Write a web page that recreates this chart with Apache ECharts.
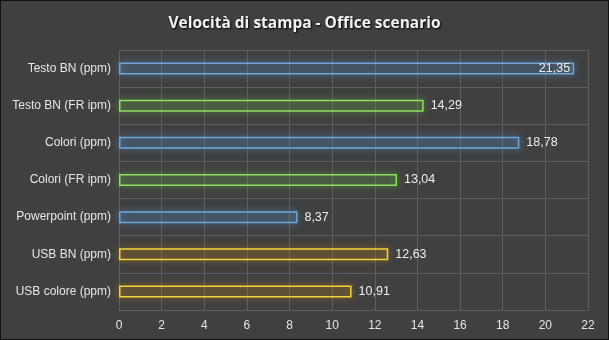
<!DOCTYPE html>
<html>
<head>
<meta charset="utf-8">
<script src="https://cdn.jsdelivr.net/npm/echarts@6/dist/echarts.min.js"></script>
<style>
html,body{margin:0;padding:0;background:#404040;}
#c{width:609px;height:340px;box-sizing:border-box;border:1px solid #111;}
</style>
</head>
<body>
<div id="c"></div>
<script>
var categories = ['Testo BN (ppm)','Testo BN (FR ipm)','Colori (ppm)','Colori (FR ipm)','Powerpoint (ppm)','USB BN (ppm)','USB colore (ppm)'];
var values = [21.35, 14.29, 18.78, 13.04, 8.37, 12.63, 10.91];
var groups = ['blue','green','blue','green','blue','yellow','yellow'];
var xTicks = [0,2,4,6,8,10,12,14,16,18,20,22];

var palette = {
  blue:   {border:'#6ea6dc', glow:'rgba(95,160,225,0.9)', fill:'rgba(80,130,180,0.10)'},
  green:  {border:'#8fe060', glow:'rgba(120,210,80,0.8)', fill:'rgba(100,170,70,0.08)'},
  yellow: {border:'#f5d43a', glow:'rgba(220,150,30,0.8)', fill:'rgba(150,100,40,0.10)'}
};

var data = values.map(function(v,i){
  var p = palette[groups[i]];
  var lbl = (v > 20) ? {position:'insideRight', distance:4} : {position:'right', distance:7};
  return {
    value: v,
    itemStyle: {color:p.fill, borderColor:p.border, borderWidth:1.5, shadowBlur:7, shadowColor:p.glow},
    label: lbl
  };
});

var FONT = 'Liberation Sans, Arial, sans-serif';
var chart = echarts.init(document.getElementById('c'));
chart.setOption({
  backgroundColor:'#404040',
  animation:false,
  title:{
    text:'Velocità di stampa - Office scenario',
    left:'center', top:10,
    textStyle:{color:'#f2f2f2', fontSize:15.5, fontWeight:'bold', fontFamily:'Open Sans',
      textShadowColor:'rgba(0,0,0,0.9)', textShadowBlur:2, textShadowOffsetX:1, textShadowOffsetY:1}
  },
  grid:{left:118, right:20, top:49, bottom:29},
  xAxis:{
    type:'value', min:0, max:22, interval:2,
    axisLine:{show:false}, axisTick:{show:false},
    axisLabel:{color:'#e6e6e6', fontSize:12, fontFamily:FONT, margin:10,
      formatter:function(v){return xTicks.indexOf(v)>=0 ? String(v) : '';}},
    splitLine:{show:true, lineStyle:{color:'#5e5e5e', width:1}}
  },
  yAxis:{
    type:'category', data:categories, inverse:true,
    axisLine:{show:false}, axisTick:{show:false},
    axisLabel:{color:'#e6e6e6', fontSize:12, fontFamily:FONT, margin:8},
    splitLine:{show:true, lineStyle:{color:'#5e5e5e', width:1}}
  },
  series:[{
    type:'bar', data:data, barWidth:12,
    label:{show:true, color:'#eeeeee', fontSize:12.5, fontFamily:FONT,
      formatter:function(p){return p.value.toFixed(2).replace('.',',');}}
  }]
});
</script>
</body>
</html>
